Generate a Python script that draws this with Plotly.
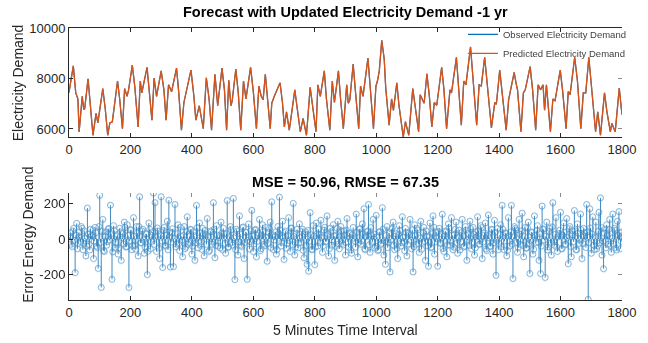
import numpy as np
import plotly.graph_objects as go

# ---------------- data ----------------
time_x = [0, 14, 22, 29, 33, 43, 48, 51, 62, 68, 78, 88, 94, 110, 118, 126, 133, 141, 158, 165,
          174, 181, 189, 194, 206, 214, 225, 232, 237, 254, 260, 270, 277, 285, 300, 309, 316, 324, 334, 350,
          357, 366, 374, 381, 397, 406, 413, 424, 437, 447, 456, 464, 475, 484, 488, 498, 506, 513, 520, 527,
          531, 543, 551, 559, 568, 576, 591, 600, 610, 618, 626, 632, 639, 647, 655, 660, 668, 687, 695, 701,
          708, 717, 735, 743, 753, 762, 773, 785, 794, 804, 810, 818, 831, 838, 849, 857, 864, 877, 884, 893,
          904, 909, 914, 925, 932, 943, 949, 957, 973, 981, 991, 999, 1004, 1010, 1018, 1026, 1031, 1042, 1050, 1056,
          1067, 1074, 1088, 1095, 1106, 1119, 1126, 1138, 1143, 1148, 1156, 1165, 1173, 1181, 1189, 1197, 1213, 1220, 1229, 1240,
          1245, 1261, 1268, 1277, 1285, 1292, 1307, 1314, 1327, 1335, 1342, 1353, 1362, 1375, 1386, 1391, 1402, 1409, 1423, 1431,
          1449, 1455, 1460, 1471, 1479, 1485, 1501, 1509, 1519, 1527, 1535, 1543, 1548, 1554, 1559, 1567, 1575, 1582, 1599, 1607,
          1618, 1625, 1631, 1646, 1655, 1666, 1674, 1682, 1692, 1700, 1714, 1721, 1730, 1743, 1751, 1762, 1767, 1778, 1791, 1800]
demand_values = [7450, 8500, 7430, 7190, 5880, 7290, 6770, 6800, 7990, 7190, 5750, 6620, 6240, 7600, 6800, 5750, 6240, 6280, 7900, 7190,
                 6010, 7600, 7290, 7550, 8530, 7700, 6080, 7900, 7430, 8440, 7550, 6350, 8020, 7290, 8300, 7550, 6350, 7750, 7480, 8410,
                 7480, 5950, 7050, 7480, 8330, 7360, 6350, 6920, 6010, 8030, 7190, 5950, 8170, 6920, 7290, 8410, 7550, 5950, 7930, 6920,
                 7100, 8370, 7430, 5950, 7900, 7190, 8440, 7480, 6010, 7700, 7290, 7160, 8170, 7160, 6010, 7020, 7290, 7830, 7020, 6080,
                 6680, 5950, 7550, 6800, 5890, 6420, 5750, 7650, 6800, 5890, 7750, 7290, 8300, 7190, 5950, 7900, 7050, 8300, 7190, 6010,
                 7750, 7020, 7150, 8570, 7550, 6010, 7700, 7290, 8810, 7700, 6010, 7700, 7900, 8300, 9515, 8770, 7620, 6150, 7190, 6740,
                 7830, 6940, 5680, 6290, 5750, 7600, 7020, 5890, 7360, 7250, 7020, 8190, 7290, 6080, 7050, 6940, 8440, 7620, 6010, 7550,
                 7430, 8840, 7700, 6150, 7900, 7750, 9250, 8030, 6150, 7750, 7700, 8840, 7650, 6040, 7050, 6980, 8330, 7550, 5950, 7160,
                 8240, 7830, 7550, 5890, 7430, 7550, 8470, 7550, 5950, 7750, 7550, 7750, 6740, 7750, 7020, 5890, 7190, 7120, 8330, 7480,
                 6010, 7480, 7360, 8840, 7900, 6010, 7430, 7430, 8840, 7750, 5890, 6680, 5750, 7430, 6680, 5890, 6220, 5890, 7620, 6570]
observed_demand = demand_values      # observed and predicted overlap in the picture
predicted_demand = demand_values

# errors at every 5th interval (carry the visible outliers)
err_x = list(range(5, 1801, 5))
err_values = [
    35, -42, 60, -189, 88, -25, 12, 70, -60, 45, -95, 174, -30, 55, 20, -110, 65, -40, -165, 245,
    -272, 110, -70, 40, -15, 60, 190, -226, 75, -50, 15, -85, 60, -120, 30, 95, -45, 80, -272, 50,
    -60, 120, -35, 70, -95, 237, -20, 55, -80, 30, -200, 90, -55, 20, 258, 204, -70, 45, -110, 237,
    -160, 65, -40, 100, 218, -157, 35, -155, 194, -30, 80, -65, 15, -100, 70, -45, 125, -20, 55, -85,
    40, -120, 189, -50, 90, -15, 60, -95, 25, 115, -70, 45, -30, 204, -105, 75, -40, 20, 95, -60,
    30, -80, 216, -45, 70, -20, 228, -228, 55, -90, 130, -35, 65, -110, 40, -226, 85, -15, 161, -70,
    50, -100, 20, 110, -55, 80, -30, 65, -125, 35, 95, 209, -60, 15, -85, 70, 235, -40, 100, -115,
    45, -25, 120, -70, 60, 200, -90, 30, -50, 85, -20, 55, -105, 40, -142, -181, 148, -60, 75, -144,
    90, -40, 25, 105, -75, 50, -15, 130, -95, 60, -35, 80, -120, 20, 100, -55, 70, -25, 45, -90,
    115, -45, 30, -80, 65, -10, 140, -100, 55, -30, 85, 170, -60, 40, 194, -75, 20, 110, -50, 133,
    -65, 40, -30, 176, -90, -142, 70, -20, -185, 55, 95, -60, 30, -110, 75, -40, 125, -15, 60, -95,
    35, 110, -55, -185, 80, -30, 50, -75, 100, -20, 65, -120, 15, -153, 90, -45, 130, -85, 40, -153,
    60, -25, 139, -70, 45, -100, 85, -35, 120, -60, 25, 95, -80, 50, -15, 110, -45, 70, -120, 30,
    100, -55, 65, -90, 40, 125, -30, 75, -110, 20, 90, -65, 135, -40, 55, -85, 105, -204, 60, -25,
    80, 189, -60, 35, -95, 120, -40, 189, -222, 70, 50, -75, 110, -30, 145, -100, 65, -50, 95, -194,
    40, -85, 130, -20, 75, -120, -194, 185, 55, -216, 95, -45, 60, -90, 204, -35, 120, -70, 30, 150,
    -55, 90, -30, 115, -139, 70, -100, 45, 160, -60, 85, -25, 140, -110, 60, 35, 194, -339, 170, -80,
    125, -60, 95, -40, 150, 231, -90, -167, 55, 80, -30, 110, -75, 140, 60, -50, 100, 154, -55, 40,
]
# errors in between (the dense core of small errors)
err_x_mid = [v - 2.5 for v in err_x]
err_values_mid = [
    12, -30, 45, -8, 22, -55, 38, -15, 60, -25, 5, -40, 28, -62, 18, 50, -12, 35, -48, 70,
    -20, 42, -65, 15, -35, 55, -5, 30, -72, 48, -18, 25, -50, 40, 8, -28, 65, -42, 20, -10,
    52, -38, 16, -58, 33, 70, -22, 45, -6, -45, 28, -68, 55, -15, 38, -30, 10, 62, -52, 25,
    -12, 48, -35, 22, -60, 40, -18, 58, 3, -44, 30, -25, 66, -8, 20, -55, 42, -30, 15, 52,
    -40, 18, -22, 64, -10, 35, -58, 26, 48, -30, 12, -64, 40, -18, 56, -36, 22, 8, -50, 34,
    60, -24, 30, -46, 14, 52, -34, 6, -60, 44, -16, 28, -42, 68, -20, 36, -8, -56, 46, 18,
    -28, 54, -14, 32, -66, 20, 44, -38, 10, -26, 58, -48, 24, -6, 40, -60, 30, 50, -18, 8,
    36, -52, 20, -10, 62, -32, 14, -46, 54, -22, 6, 42, -64, 28, -36, 48, -12, 24, -58, 16,
    -44, 30, 56, -20, 8, -38, 66, -14, 26, -54, 40, -6, 18, -42, 60, -28, 12, 46, -34, 22,
    50, -16, 34, -62, 24, 4, -46, 38, -22, 58, -10, 30, -56, 14, 44, -32, 64, -18, 28, -40,
    10, -60, 42, -24, 56, -12, 20, -48, 34, -4, 62, -36, 16, -52, 26, 48, -20, 8, -66, 38,
    -30, 24, -8, 52, -44, 18, 60, -26, 6, -58, 36, -14, 46, -38, 12, -50, 30, 66, -16, 4,
    44, -20, 28, -54, 16, 40, -34, 62, -10, 22, -46, 54, -24, 8, -62, 36, 18, -40, 50, -6,
    -36, 58, -16, 26, -50, 12, 46, -28, 64, -18, 34, -56, 20, 6, -42, 52, -22, 38, -8, -60,
    24, -44, 54, -12, 32, -64, 18, 40, -30, 10, 60, -20, -48, 28, 46, -36, 14, -52, 62, -26,
    -8, 36, -58, 22, 48, -18, 30, -40, 56, -6, 16, -62, 42, -24, 68, -14, 26, -46, 12, 50,
    -54, 20, 38, -30, 8, 58, -42, 24, -16, 46, -60, 34, -4, 52, -26, 14, -48, 40, -20, 62,
    28, -34, 10, -56, 44, -22, 64, -12, 32, -50, 18, 54, -38, 6, -28, 48, -62, 22, 36, -14,
]

x_ticks = [0, 200, 400, 600, 800, 1000, 1200, 1400, 1600, 1800]
top_y_ticks = [6000, 8000, 10000]
bot_y_ticks = [-200, 0, 200]

title_top = "Forecast with Updated Electricity Demand -1 yr"
title_bottom = "MSE = 50.96, RMSE = 67.35"

# ---------------- figure ----------------
FONT = "Liberation Sans, Arial, sans-serif"
AX = "#262626"
TOP_RANGE = [5680, 10000]
BOT_RANGE = [-342, 258]

all_err_x = err_x_mid + err_x
all_err_v = err_values_mid + err_values

stem_x, stem_y = [], []
for xv, ev in zip(all_err_x, all_err_v):
    stem_x += [xv, xv, None]
    stem_y += [0, ev, None]

fig = go.Figure()
fig.add_trace(go.Scatter(x=time_x, y=observed_demand, mode="lines",
                         line=dict(color="#0072BD", width=1.2),
                         name="Observed Electricity Demand", xaxis="x", yaxis="y"))
fig.add_trace(go.Scatter(x=time_x, y=predicted_demand, mode="lines",
                         line=dict(color="#D95319", width=1.3),
                         name="Predicted Electricity Demand", xaxis="x", yaxis="y"))
fig.add_trace(go.Scatter(x=stem_x, y=stem_y, mode="lines",
                         line=dict(color="#0868ad", width=0.9),
                         opacity=0.85, showlegend=False, xaxis="x2", yaxis="y2",
                         hoverinfo="skip"))
fig.add_trace(go.Scatter(x=all_err_x, y=all_err_v, mode="markers",
                         marker=dict(symbol="circle-open", size=6,
                                     line=dict(color="#3587c4", width=0.9), color="#3587c4"),
                         opacity=0.75, showlegend=False, xaxis="x2", yaxis="y2"))
# empty traces that hold the mirrored tick-only axes
fig.add_trace(go.Scatter(x=[], y=[], xaxis="x", yaxis="y3", showlegend=False))
fig.add_trace(go.Scatter(x=[], y=[], xaxis="x3", yaxis="y2", showlegend=False))
fig.add_trace(go.Scatter(x=[], y=[], xaxis="x2", yaxis="y4", showlegend=False))

axis_common = dict(showgrid=False, zeroline=False, showline=True, linecolor=AX, linewidth=1,
                   ticks="inside", ticklen=4, tickcolor=AX,
                   tickfont=dict(family=FONT, size=13, color=AX))
mirror_common = dict(showgrid=False, zeroline=False, showline=False, ticks="inside",
                     ticklen=4, tickcolor="#8a8a8a", showticklabels=False)

def ann(text, x, y, size, bold=False, angle=0, color=AX):
    return dict(text=("<b>" + text + "</b>") if bold else text, x=x, y=y,
                xref="paper", yref="paper", xanchor="center", yanchor="middle",
                textangle=angle, showarrow=False,
                font=dict(family=FONT, size=size, color=color))

fig.update_layout(
    width=648, height=343,
    margin=dict(l=69, r=16, t=28, b=43),
    paper_bgcolor="white", plot_bgcolor="white",
    showlegend=True,
    legend=dict(x=1.018, xanchor="right", y=1.03, yanchor="top",
                font=dict(family=FONT, size=9.5, color="#404040"),
                bgcolor="rgba(255,255,255,0)", borderwidth=0,
                tracegroupgap=0, itemwidth=30),
    xaxis=dict(domain=[0, 1], anchor="y", range=[0, 1800], tickvals=x_ticks,
               ticktext=[str(v) for v in x_ticks], mirror="ticks", **axis_common),
    yaxis=dict(domain=[0.599, 1], anchor="x", range=TOP_RANGE, tickvals=top_y_ticks,
               ticktext=[str(v) for v in top_y_ticks], **axis_common),
    yaxis3=dict(overlaying="y", side="right", anchor="x", range=TOP_RANGE,
                tickvals=top_y_ticks, **mirror_common),
    xaxis2=dict(domain=[0, 1], anchor="y2", range=[0, 1800], tickvals=x_ticks,
                ticktext=[str(v) for v in x_ticks], **axis_common),
    yaxis2=dict(domain=[0, 0.393], anchor="x2", range=BOT_RANGE, tickvals=bot_y_ticks,
                ticktext=[str(v) for v in bot_y_ticks], **axis_common),
    xaxis3=dict(overlaying="x2", side="top", anchor="y2", range=[0, 1800],
                tickvals=x_ticks, **mirror_common),
    yaxis4=dict(overlaying="y2", side="right", anchor="x2", range=BOT_RANGE,
                tickvals=bot_y_ticks, **mirror_common),
    annotations=[
        ann(title_top, 0.5, 1.059, 14.5, bold=True, color="black"),
        ann(title_bottom, 0.5, 0.434, 14.5, bold=True, color="black"),
        ann("Electricity Demand", -0.0906, 0.80, 14, angle=-90),
        ann("Error Energy Demand", -0.0746, 0.239, 14, angle=-90),
        ann("5 Minutes Time Interval", 0.5, -0.110, 14),
    ],
)

fig.write_html("out.html")
